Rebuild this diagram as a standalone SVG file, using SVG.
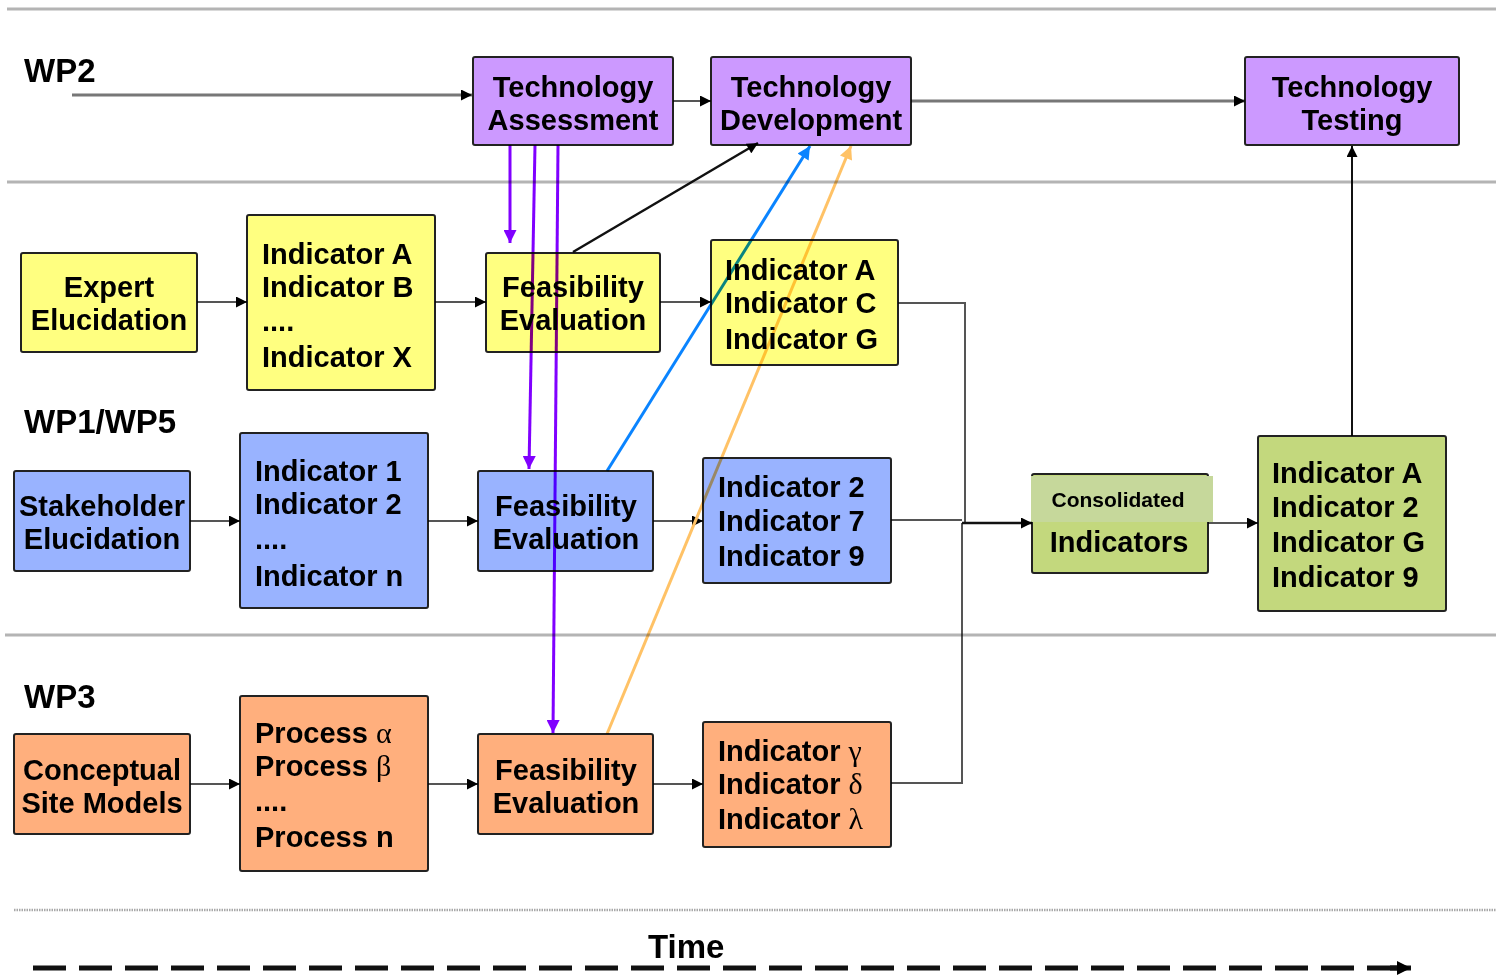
<svg xmlns="http://www.w3.org/2000/svg" width="1496" height="975" viewBox="0 0 1496 975">
  <style>
    text{font-family:"Liberation Sans",Arial,Helvetica,sans-serif;font-weight:bold;font-size:29px;fill:#000}
    .lab{font-size:33px}
    .c{text-anchor:middle}
    .box{stroke:#222;stroke-width:2}
    .wp2{fill:#cc99ff}
    .yel{fill:#ffff80}
    .blu{fill:#99b3ff}
    .ora{fill:#ffaf7d}
    .grn{fill:#c3d87d}
    .div{stroke:#b4b4b4;stroke-width:3;fill:none}
    .dot{stroke:#a8a8a8;stroke-width:2.5;stroke-dasharray:1.5 1;fill:none}
    .ln{stroke:#555;stroke-width:2;fill:none}
    .gk{font-family:"Liberation Serif","DejaVu Serif",serif;font-weight:normal;font-size:30px}
    #connectors{mix-blend-mode:multiply}
  </style>
  <defs>
    <marker id="ah" viewBox="0 0 10 10" refX="10" refY="5" markerWidth="12" markerHeight="11" markerUnits="userSpaceOnUse" orient="auto">
      <path d="M0,0L10,5L0,10z" fill="#000"/>
    </marker>
    <marker id="ahP" viewBox="0 0 10 10" refX="10" refY="5" markerWidth="14" markerHeight="13" markerUnits="userSpaceOnUse" orient="auto">
      <path d="M0,0L10,5L0,10z" fill="#8000ff"/>
    </marker>
    <marker id="ahB" viewBox="0 0 10 10" refX="10" refY="5" markerWidth="14" markerHeight="13" markerUnits="userSpaceOnUse" orient="auto">
      <path d="M0,0L10,5L0,10z" fill="#0a84ff"/>
    </marker>
    <marker id="ahO" viewBox="0 0 10 10" refX="10" refY="5" markerWidth="14" markerHeight="13" markerUnits="userSpaceOnUse" orient="auto">
      <path d="M0,0L10,5L0,10z" fill="#ffc266"/>
    </marker>
    <marker id="ahT" viewBox="0 0 10 10" refX="10" refY="5" markerWidth="14" markerHeight="14" markerUnits="userSpaceOnUse" orient="auto">
      <path d="M0,0L10,5L0,10z" fill="#000"/>
    </marker>
  </defs>

  <!-- swimlane separators -->
  <g id="lanes">
    <path class="div" d="M7,9H1496"/>
    <path class="div" d="M7,182H1496"/>
    <path class="div" d="M5,635H1496"/>
    <path class="dot" d="M14,910H1496"/>
  </g>

  <!-- lane labels -->
  <g id="labels">
    <text class="lab" x="24" y="82">WP2</text>
    <text class="lab" x="24" y="433">WP1/WP5</text>
    <text class="lab" x="24" y="708">WP3</text>
    <text class="lab" x="648" y="958">Time</text>
  </g>

  <!-- WP2 -->
  <g id="tech-assessment">
    <rect class="box wp2" x="473" y="57" width="200" height="88" rx="2"/>
    <text class="c" x="573" y="97">Technology</text>
    <text class="c" x="573" y="130">Assessment</text>
  </g>
  <g id="tech-development">
    <rect class="box wp2" x="711" y="57" width="200" height="88" rx="2"/>
    <text class="c" x="811" y="97">Technology</text>
    <text class="c" x="811" y="130">Development</text>
  </g>
  <g id="tech-testing">
    <rect class="box wp2" x="1245" y="57" width="214" height="88" rx="2"/>
    <text class="c" x="1352" y="97">Technology</text>
    <text class="c" x="1352" y="130">Testing</text>
  </g>

  <!-- WP1 -->
  <g id="expert-elucidation">
    <rect class="box yel" x="21" y="253" width="176" height="99" rx="2"/>
    <text class="c" x="109" y="297">Expert</text>
    <text class="c" x="109" y="330">Elucidation</text>
  </g>
  <g id="expert-indicators">
    <rect class="box yel" x="247" y="215" width="188" height="175" rx="2"/>
    <text x="262" y="264">Indicator A</text>
    <text x="262" y="297">Indicator B</text>
    <text x="262" y="331">....</text>
    <text x="262" y="367">Indicator X</text>
  </g>
  <g id="expert-feasibility">
    <rect class="box yel" x="486" y="253" width="174" height="99" rx="2"/>
    <text class="c" x="573" y="297">Feasibility</text>
    <text class="c" x="573" y="330">Evaluation</text>
  </g>
  <g id="expert-selected">
    <rect class="box yel" x="711" y="240" width="187" height="125" rx="2"/>
    <text x="725" y="280">Indicator A</text>
    <text x="725" y="313">Indicator C</text>
    <text x="725" y="349">Indicator G</text>
  </g>

  <!-- WP1/WP5 -->
  <g id="stakeholder-elucidation">
    <rect class="box blu" x="14" y="471" width="176" height="100" rx="2"/>
    <text class="c" x="102" y="516">Stakeholder</text>
    <text class="c" x="102" y="549">Elucidation</text>
  </g>
  <g id="stakeholder-indicators">
    <rect class="box blu" x="240" y="433" width="188" height="175" rx="2"/>
    <text x="255" y="481">Indicator 1</text>
    <text x="255" y="514">Indicator 2</text>
    <text x="255" y="549">....</text>
    <text x="255" y="586">Indicator n</text>
  </g>
  <g id="stakeholder-feasibility">
    <rect class="box blu" x="478" y="471" width="175" height="100" rx="2"/>
    <text class="c" x="566" y="516">Feasibility</text>
    <text class="c" x="566" y="549">Evaluation</text>
  </g>
  <g id="stakeholder-selected">
    <rect class="box blu" x="703" y="458" width="188" height="125" rx="2"/>
    <text x="718" y="497">Indicator 2</text>
    <text x="718" y="531">Indicator 7</text>
    <text x="718" y="566">Indicator 9</text>
  </g>

  <!-- consolidation -->
  <g id="consolidated">
    <rect class="box grn" x="1032" y="474" width="176" height="99" rx="2"/>
    <rect x="1031" y="476" width="182" height="46" fill="#c6d89b"/>
    <text class="c" x="1118" y="507" style="font-size:21px">Consolidated</text>
    <text class="c" x="1119" y="552">Indicators</text>
  </g>
  <g id="final-indicators">
    <rect class="box grn" x="1258" y="436" width="188" height="175" rx="2"/>
    <text x="1272" y="483">Indicator A</text>
    <text x="1272" y="517">Indicator 2</text>
    <text x="1272" y="552">Indicator G</text>
    <text x="1272" y="587">Indicator 9</text>
  </g>

  <!-- WP3 -->
  <g id="site-models">
    <rect class="box ora" x="14" y="734" width="176" height="100" rx="2"/>
    <text class="c" x="102" y="780">Conceptual</text>
    <text class="c" x="102" y="813">Site Models</text>
  </g>
  <g id="processes">
    <rect class="box ora" x="240" y="696" width="188" height="175" rx="2"/>
    <text x="255" y="743">Process <tspan class="gk">α</tspan></text>
    <text x="255" y="776">Process <tspan class="gk">β</tspan></text>
    <text x="255" y="811">....</text>
    <text x="255" y="847">Process n</text>
  </g>
  <g id="process-feasibility">
    <rect class="box ora" x="478" y="734" width="175" height="100" rx="2"/>
    <text class="c" x="566" y="780">Feasibility</text>
    <text class="c" x="566" y="813">Evaluation</text>
  </g>
  <g id="process-selected">
    <rect class="box ora" x="703" y="722" width="188" height="125" rx="2"/>
    <text x="718" y="761">Indicator <tspan class="gk">γ</tspan></text>
    <text x="718" y="794">Indicator <tspan class="gk">δ</tspan></text>
    <text x="718" y="829">Indicator <tspan class="gk">λ</tspan></text>
  </g>

  <!-- flows between steps -->
  <g id="connectors">
    <path d="M72,95H472" stroke="#777" stroke-width="3" fill="none" marker-end="url(#ah)"/>
    <path class="ln" d="M673,101H711" marker-end="url(#ah)"/>
    <path d="M911,101H1245" stroke="#777" stroke-width="3" fill="none" marker-end="url(#ah)"/>

    <path class="ln" d="M197,302H247" marker-end="url(#ah)"/>
    <path class="ln" d="M435,302H486" marker-end="url(#ah)"/>
    <path class="ln" d="M660,302H711" marker-end="url(#ah)"/>

    <path class="ln" d="M190,521H240" marker-end="url(#ah)"/>
    <path class="ln" d="M428,521H478" marker-end="url(#ah)"/>
    <path class="ln" d="M653,521H703" marker-end="url(#ah)"/>

    <path class="ln" d="M190,784H240" marker-end="url(#ah)"/>
    <path class="ln" d="M428,784H478" marker-end="url(#ah)"/>
    <path class="ln" d="M653,784H703" marker-end="url(#ah)"/>

    <path class="ln" d="M898,303H965V523"/>
    <path class="ln" d="M891,520H962"/>
    <path class="ln" d="M891,783H962V523"/>
    <path d="M962,523H1032" stroke="#111" stroke-width="2.5" fill="none" marker-end="url(#ah)"/>
    <path class="ln" d="M1208,523H1258" marker-end="url(#ah)"/>
    <path d="M1352,436V146" stroke="#111" stroke-width="2" fill="none" marker-end="url(#ah)"/>

    <path d="M573,252L758,143" stroke="#111" stroke-width="2.5" fill="none" marker-end="url(#ah)"/>
    <path d="M607,471L810,146" stroke="#0a84ff" stroke-width="3" fill="none" marker-end="url(#ahB)"/>
    <path d="M607,734L851,146" stroke="#ffc266" stroke-width="3" fill="none" marker-end="url(#ahO)"/>

    <path d="M510,145V243" stroke="#8000ff" stroke-width="3" fill="none" marker-end="url(#ahP)"/>
    <path d="M535,145L529,469" stroke="#8000ff" stroke-width="3" fill="none" marker-end="url(#ahP)"/>
    <path d="M558,145L553,733" stroke="#8000ff" stroke-width="3" fill="none" marker-end="url(#ahP)"/>

    <path d="M33,968H1398" stroke="#111" stroke-width="5" stroke-dasharray="33 13" fill="none"/>
    <path d="M1390,968H1411" stroke="#111" stroke-width="5" fill="none" marker-end="url(#ahT)"/>
  </g>
</svg>
